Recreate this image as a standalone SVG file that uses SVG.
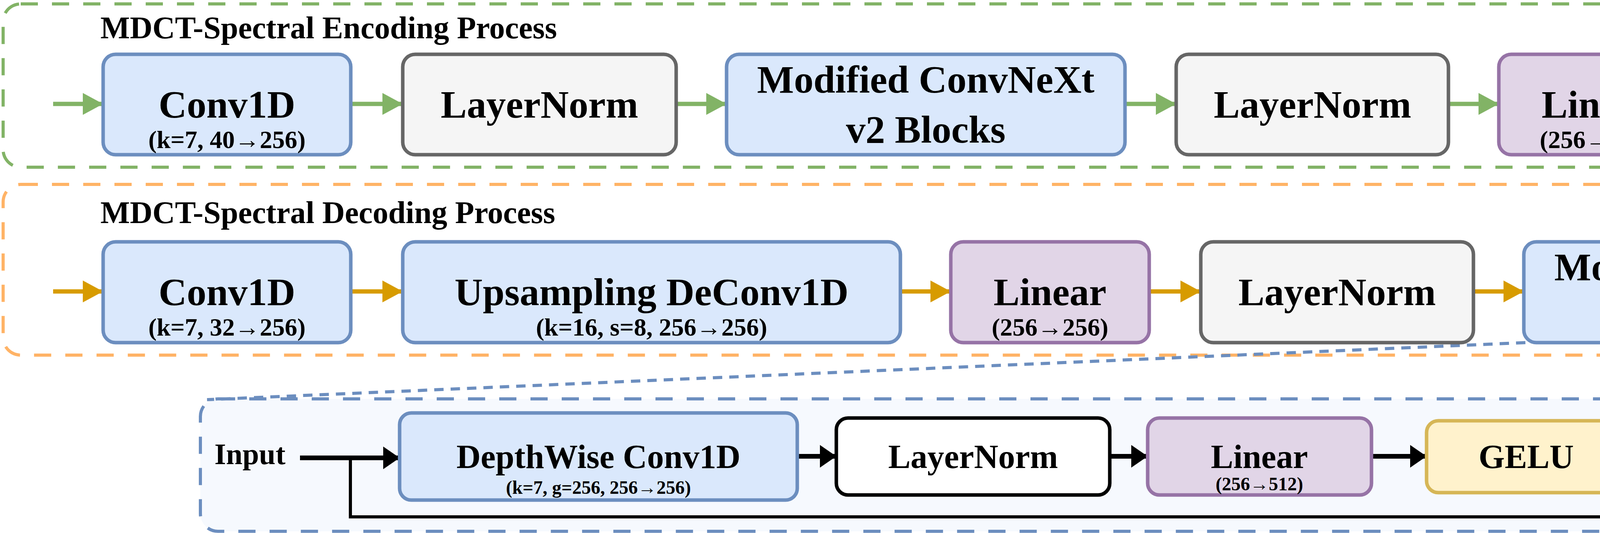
<svg xmlns="http://www.w3.org/2000/svg" width="6785" height="1372" viewBox="0 0 6785 1372">
<style>
text{font-family:"Liberation Serif","Times New Roman",serif;font-weight:bold;fill:#000;text-anchor:middle}
.t{font-size:80px;text-anchor:start}
.m{font-size:100px}
.s{font-size:64px}
.im{font-size:86px}
.is{font-size:48px}
.io{font-size:76px;text-anchor:start}
.blue{fill:#dae8fc;stroke:#6c8ebf;stroke-width:9}
.gray{fill:#f5f5f5;stroke:#666666;stroke-width:9}
.purple{fill:#e1d5e7;stroke:#9673a6;stroke-width:9}
.white{fill:#ffffff;stroke:#000000;stroke-width:9}
.yellow{fill:#fff2cc;stroke:#d6b656;stroke-width:9}
.green{fill:#d5e8d4;stroke:#82b366;stroke-width:9}
.ga{stroke:#82b366;stroke-width:11;fill:none}
.oa{stroke:#d79b00;stroke-width:11;fill:none}
.ka{stroke:#000;stroke-width:12;fill:none}
</style>
<defs>
<marker id="mg" markerUnits="userSpaceOnUse" markerWidth="52" markerHeight="56" refX="52" refY="28" orient="auto"><path d="M0,0 L52,28 L0,56 Z" fill="#82b366"/></marker>
<marker id="mo" markerUnits="userSpaceOnUse" markerWidth="52" markerHeight="56" refX="52" refY="28" orient="auto"><path d="M0,0 L52,28 L0,56 Z" fill="#d79b00"/></marker>
<marker id="mk" markerUnits="userSpaceOnUse" markerWidth="42" markerHeight="58" refX="42" refY="29" orient="auto"><path d="M0,0 L42,29 L0,58 Z" fill="#000"/></marker>
</defs>

<g id="containers">
<rect x="8" y="10" width="6765" height="418" rx="45" fill="none" stroke="#82b366" stroke-width="8" stroke-dasharray="44 36"/>
<rect x="8" y="472" width="6765" height="437" rx="45" fill="none" stroke="#ffb366" stroke-width="8" stroke-dasharray="44 36"/>
<rect x="513" y="1021" width="5743" height="339" rx="45" fill="#f6f9fe" stroke="#6c8ebf" stroke-width="8" stroke-dasharray="44 36"/>
<text class="t" x="257" y="98">MDCT-Spectral Encoding Process</text>
<text class="t" x="257" y="571">MDCT-Spectral Decoding Process</text>
</g>

<g id="connectors">
<line x1="3905" y1="877" x2="530" y2="1023" stroke="#6c8ebf" stroke-width="8" stroke-dasharray="24 18"/>
<line x1="4922" y1="875" x2="6175" y2="1023" stroke="#6c8ebf" stroke-width="8" stroke-dasharray="24 18"/>
<g marker-end="url(#mg)" class="ga">
<line x1="136" y1="266" x2="264" y2="266"/>
<line x1="898" y1="266" x2="1031" y2="266"/>
<line x1="1731" y1="266" x2="1860" y2="266"/>
<line x1="2880" y1="266" x2="3011" y2="266"/>
<line x1="3708" y1="266" x2="3837" y2="266"/>
<line x1="4345" y1="266" x2="4476" y2="266"/>
<line x1="5751" y1="266" x2="5881" y2="266"/>
<line x1="6516" y1="266" x2="6643" y2="266"/>
</g>
<g marker-end="url(#mo)" class="oa">
<line x1="136" y1="746" x2="264" y2="746"/>
<line x1="898" y1="746" x2="1031" y2="746"/>
<line x1="2305" y1="746" x2="2434" y2="746"/>
<line x1="2942" y1="746" x2="3074" y2="746"/>
<line x1="3772" y1="746" x2="3901" y2="746"/>
<line x1="4922" y1="746" x2="5051" y2="746"/>
<line x1="5751" y1="746" x2="5881" y2="746"/>
<line x1="6516" y1="746" x2="6643" y2="746"/>
</g>
<g marker-end="url(#mk)" class="ka">
<line x1="768" y1="1172" x2="1023" y2="1172"/>
<line x1="2041" y1="1168" x2="2141" y2="1168"/>
<line x1="2841" y1="1168" x2="2938" y2="1168"/>
<line x1="3511" y1="1168" x2="3652" y2="1168"/>
<line x1="4163" y1="1168" x2="4306" y2="1168"/>
<line x1="4813" y1="1168" x2="4953" y2="1168"/>
<line x1="5525" y1="1168" x2="5682" y2="1168"/>
<line x1="5758" y1="1168" x2="5912" y2="1168"/>
</g>
<polyline points="897,1172 897,1323 5720,1323 5720,1212" fill="none" stroke="#000" stroke-width="8" marker-end="url(#mk)"/>
</g>

<g id="enc-conv1">
<rect class="blue" x="264" y="139" width="634" height="257" rx="32"/>
<text class="m" x="581" y="301">Conv1D</text><text class="s" x="581" y="379">(k=7, 40→256)</text></g>
<g id="enc-ln1">
<rect class="gray" x="1031" y="139" width="700" height="257" rx="32"/>
<text class="m" x="1381" y="301">LayerNorm</text></g>
<g id="enc-convnext">
<rect class="blue" x="1860" y="139" width="1020" height="257" rx="32"/>
<text class="m" x="2370" y="237">Modified ConvNeXt</text><text class="m" x="2370" y="365">v2 Blocks</text></g>
<g id="enc-ln2">
<rect class="gray" x="3011" y="139" width="697" height="257" rx="32"/>
<text class="m" x="3360" y="301">LayerNorm</text></g>
<g id="enc-linear">
<rect class="purple" x="3837" y="139" width="508" height="257" rx="32"/>
<text class="m" x="4091" y="301">Linear</text><text class="s" x="4091" y="379">(256→256)</text></g>
<g id="enc-down">
<rect class="blue" x="4476" y="139" width="1275" height="257" rx="32"/>
<text class="m" x="5113" y="301">Downsampling Conv1D</text><text class="s" x="5113" y="372">(k=7, s=8, 256→256)</text></g>
<g id="enc-conv2">
<rect class="blue" x="5881" y="139" width="635" height="257" rx="32"/>
<text class="m" x="6198" y="301">Conv1D</text><text class="s" x="6198" y="379">(k=7, 256→32)</text></g>

<g id="dec-conv1">
<rect class="blue" x="264" y="619" width="634" height="258" rx="32"/>
<text class="m" x="581" y="781">Conv1D</text><text class="s" x="581" y="859">(k=7, 32→256)</text></g>
<g id="dec-up">
<rect class="blue" x="1031" y="619" width="1274" height="258" rx="32"/>
<text class="m" x="1668" y="781">Upsampling DeConv1D</text><text class="s" x="1668" y="859">(k=16, s=8, 256→256)</text></g>
<g id="dec-linear">
<rect class="purple" x="2434" y="619" width="508" height="258" rx="32"/>
<text class="m" x="2688" y="781">Linear</text><text class="s" x="2688" y="859">(256→256)</text></g>
<g id="dec-ln1">
<rect class="gray" x="3074" y="619" width="698" height="258" rx="32"/>
<text class="m" x="3423" y="781">LayerNorm</text></g>
<g id="dec-convnext">
<rect class="blue" x="3901" y="619" width="1021" height="258" rx="32"/>
<text class="m" x="4411" y="717">Modified ConvNeXt</text><text class="m" x="4411" y="845">v2 Blocks</text></g>
<g id="dec-ln2">
<rect class="gray" x="5051" y="619" width="700" height="258" rx="32"/>
<text class="m" x="5401" y="781">LayerNorm</text></g>
<g id="dec-conv2">
<rect class="blue" x="5881" y="619" width="635" height="258" rx="32"/>
<text class="m" x="6198" y="781">Conv1D</text><text class="s" x="6198" y="859">(k=7, 256→40)</text></g>

<g id="in-input"><text class="io" x="549" y="1188">Input</text></g>
<g id="in-dw">
<rect class="blue" x="1023" y="1057" width="1018" height="223" rx="30"/>
<text class="im" x="1532" y="1198">DepthWise Conv1D</text><text class="is" x="1532" y="1264">(k=7, g=256, 256→256)</text></g>
<g id="in-ln">
<rect class="white" x="2141" y="1070" width="700" height="197" rx="30"/>
<text class="im" x="2491" y="1198">LayerNorm</text></g>
<g id="in-linear1">
<rect class="purple" x="2938" y="1070" width="573" height="197" rx="30"/>
<text class="im" x="3224" y="1198">Linear</text><text class="is" x="3224" y="1255">(256→512)</text></g>
<g id="in-gelu">
<rect class="yellow" x="3652" y="1077" width="511" height="184" rx="30"/>
<text class="im" x="3907" y="1198">GELU</text></g>
<g id="in-grn">
<rect class="green" x="4306" y="1077" width="507" height="184" rx="30"/>
<text class="im" x="4559" y="1198">GRN</text></g>
<g id="in-linear2">
<rect class="purple" x="4953" y="1070" width="572" height="197" rx="30"/>
<text class="im" x="5239" y="1198">Linear</text><text class="is" x="5239" y="1255">(512→256)</text></g>
<g id="in-add">
<circle cx="5720" cy="1168" r="38" fill="#fff" stroke="#000" stroke-width="8"/>
<path d="M5720,1145 V1191 M5697,1168 H5743" stroke="#000" stroke-width="7"/></g>
<g id="in-output"><text class="io" x="5944" y="1191">Output</text></g>
</svg>
